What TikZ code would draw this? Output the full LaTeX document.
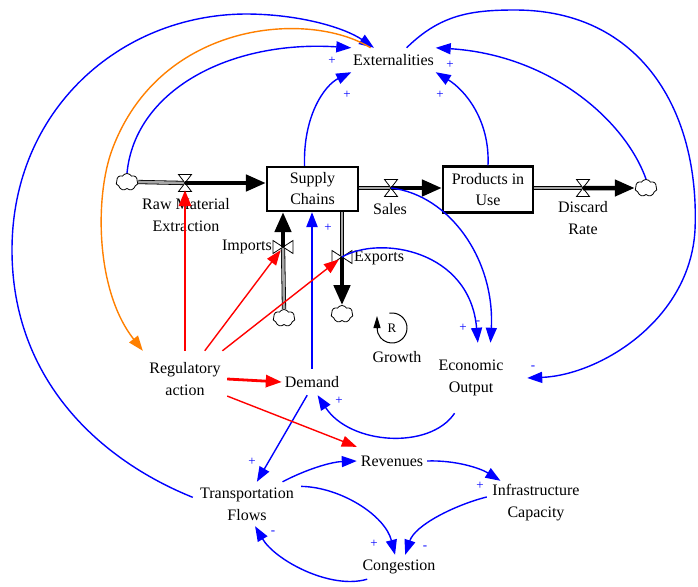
\documentclass[tikz,border=0pt]{standalone}
\usepackage{fontspec}
\setmainfont{Liberation Serif}
\usetikzlibrary{arrows.meta,shapes.symbols,calc}
\begin{document}
\begin{tikzpicture}[x=1pt,y=-1pt,
  var/.style={font=\fontsize{16}{22}\selectfont, align=center, inner sep=0pt},
  stockbox/.style={draw, line width=2.2pt, inner sep=0pt, font=\fontsize{16}{21}\selectfont, align=center, fill=white},
  lnk/.style={draw=blue, line width=1.4pt, -{Triangle[length=15pt,width=11pt]}},
  orangelnk/.style={draw=orange, line width=1.4pt, -{Triangle[length=15pt,width=11pt]}},
  redthick/.style={draw=red, line width=2.8pt, -{Triangle[length=16pt,width=12pt]}},
  redthin/.style={draw=red, line width=1.4pt, -{Triangle[length=15pt,width=11pt]}},
  pol/.style={text=blue, font=\fontsize{13}{13}\selectfont, inner sep=0pt},
  pipe/.style={draw=black, line width=0.8pt, double=black!35, double distance=2.6pt},
  flowarr/.style={draw=black, line width=4.5pt, -{Triangle[length=20pt,width=16pt]}},
  cloudnode/.style={cloud, cloud puffs=7, cloud puff arc=120, aspect=1.3, draw, fill=white, line width=0.8pt, minimum width=22pt, minimum height=17pt, inner sep=0pt},
  valveh/.pic={\draw[fill=white, line width=0.8pt] (-6.5,-8.5) -- (6.5,-8.5) -- (-6.5,8.5) -- (6.5,8.5) -- cycle;},
  valvev/.pic={\draw[fill=white, line width=0.8pt] (-10,-6.5) -- (-10,6.5) -- (10,-6.5) -- (10,6.5) -- cycle;}
]
\fill[white] (0,0) rectangle (698,586);
\useasboundingbox (0,0) rectangle (698,586);

% variables
\node[var, minimum width=84pt, minimum height=24pt] (ext) at (393.5,60) {Externalities};
\node[var, minimum width=84pt, minimum height=56pt] (reg) at (185,379) {Regulatory\\action};
\node[var, minimum width=60pt, minimum height=26pt] (demand) at (312,382) {Demand};
\node[var, minimum width=112pt, minimum height=70pt] (econ) at (471,378) {Economic\\Output};
\node[var, minimum width=70pt, minimum height=28pt] (rev) at (392,461) {Revenues};
\node[var, minimum width=108pt, minimum height=44pt] (tf) at (247,504) {Transportation\\Flows};
\node[var, minimum width=98pt, minimum height=44pt] (ic) at (536,503) {Infrastructure\\Capacity};
\node[var, minimum width=80pt, minimum height=24pt] (cong) at (399,567) {Congestion};

% stocks
\node[stockbox, minimum width=91pt, minimum height=44pt] (sc) at (312.5,189) {Supply\\Chains};
\node[stockbox, minimum width=90pt, minimum height=46pt] (piu) at (488,189.5) {Products in\\Use};

% clouds
\node[cloudnode] (cl1) at (127,182) {};
\node[cloudnode] (cl2) at (646,188) {};
\node[cloudnode] (cl3) at (284,318) {};
\node[cloudnode] (cl4) at (342,314) {};

% valves
\coordinate (rmev) at (185,183);
\coordinate (salesv) at (391,188);
\coordinate (discv) at (583,188);
\coordinate (impv) at (283,247);
\coordinate (expv) at (342,257);

% flow labels
\node[var] (rmel) at (186,215) {Raw Material\\Extraction};
\node[var] (salesl) at (390,209) {Sales};
\node[var] (discl) at (583,218) {Discard\\Rate};
\node[var, anchor=east] (impl) at (272,247) {Imports};
\node[var, anchor=west] (expl) at (354,258) {Exports};

% pipes
\draw[pipe] (cl1.east) -- (rmev);
\draw[pipe] (sc.east |- salesv) -- (salesv);
\draw[pipe] (piu.east |- discv) -- (discv);
\draw[pipe] (cl3.north) -- (impv);
\draw[pipe] (sc.south -| expv) -- (expv);

\pic at (rmev) {valveh};
\pic at (salesv) {valveh};
\pic at (discv) {valveh};
\pic at (impv) {valvev};
\pic at (expv) {valvev};

\draw[flowarr] (rmev) -- (sc.west |- rmev);
\draw[flowarr] (salesv) -- (piu.west |- salesv);
\draw[flowarr] (discv) -- (cl2.west);
\draw[flowarr] (impv) -- (sc.south -| impv);
\draw[flowarr] (expv) -- (cl4.north);

% links to / from externalities
\draw[lnk] (tf.173) .. controls (100,460) and (12,380) .. (12,250) .. controls (12,110) and (120,15) .. (245,14) .. controls (300,14) and (345,28) .. (ext.148);
\draw[orangelnk] (ext.152) .. controls (310,10) and (160,20) .. (112,150) .. controls (95,196) and (95,290) .. (reg.north west);
\draw[lnk] (cl1.north) .. controls (135,90) and (230,40) .. (ext.north west);
\draw[lnk] (sc.109) .. controls (303,115) and (325,85) .. (ext.south west);
\draw[lnk] (piu.north) .. controls (490,120) and (465,90) .. (ext.south east);
\draw[lnk] (cl2.north) .. controls (625,120) and (550,55) .. (ext.north east);
\draw[lnk] (ext.43) .. controls (440,15) and (470,10) .. (515,10) .. controls (640,10) and (700,110) .. (695,230) .. controls (690,320) and (600,375) .. (econ.east);

% economic links
\draw[lnk] (salesv) .. controls (450,195) and (495,260) .. (econ.61);
\draw[lnk] (expv) .. controls (380,235) and (470,250) .. (econ.79);
\draw[lnk] (econ.245) .. controls (430,450) and (350,445) .. (demand.-67);
\draw[lnk, line width=2.2pt] (demand.north) -- (sc.south -| demand.north);

% lower loop
\draw[lnk] (demand.250) -- (tf.66);
\draw[lnk] (tf.32) .. controls (305,470) and (330,462) .. (rev.west);
\draw[lnk] (rev.east) .. controls (455,460) and (480,468) .. (ic.148);
\draw[lnk] (tf.18) .. controls (340,487) and (385,515) .. (cong.108);
\draw[lnk] (ic.173) .. controls (455,505) and (415,525) .. (cong.63);
\draw[lnk] (cong.201) .. controls (330,590) and (275,560) .. (tf.-70);

% regulatory links
\draw[redthick, shorten >=7pt] (reg.north) -- (rmev);
\draw[redthin, shorten >=4pt] (reg.55) -- (impv);
\draw[redthin, shorten >=4pt] (reg.37) -- (expv);
\draw[redthick] (reg.east) -- (demand.west);
\draw[redthin] (reg.-22) -- (rev.north west);

% polarities
\node[pol] (p1) at (332,61) {+};
\node[pol] (p2) at (347,95) {+};
\node[pol] (p3) at (450,65) {+};
\node[pol] (p4) at (440,95) {+};
\node[pol] (p5) at (533,368) {-};
\node[pol] (p6) at (463,328) {+};
\node[pol] (p7) at (478,323) {-};
\node[pol] (p8) at (328,228) {+};
\node[pol] (p9) at (339,401) {+};
\node[pol] (p10) at (252,462) {+};
\node[pol] (p11) at (480,486) {+};
\node[pol] (p12) at (374,544) {+};
\node[pol] (p13) at (425,548) {-};
\node[pol] (p14) at (273,533) {-};

% growth loop
\node[font=\fontsize{13}{13}\selectfont, inner sep=0pt] (rloop) at (392,328) {R};
\draw[line width=1pt] ([shift={(-100:15)}]rloop.center) arc[start angle=-100, end angle=180, radius=15];
\draw[line width=1pt, -{Triangle[length=12pt,width=7pt]}] ([shift={(180:15)}]rloop.center) -- ++(0,-12);
\node[var] (growth) at (397,357) {Growth};
\end{tikzpicture}
\end{document}
